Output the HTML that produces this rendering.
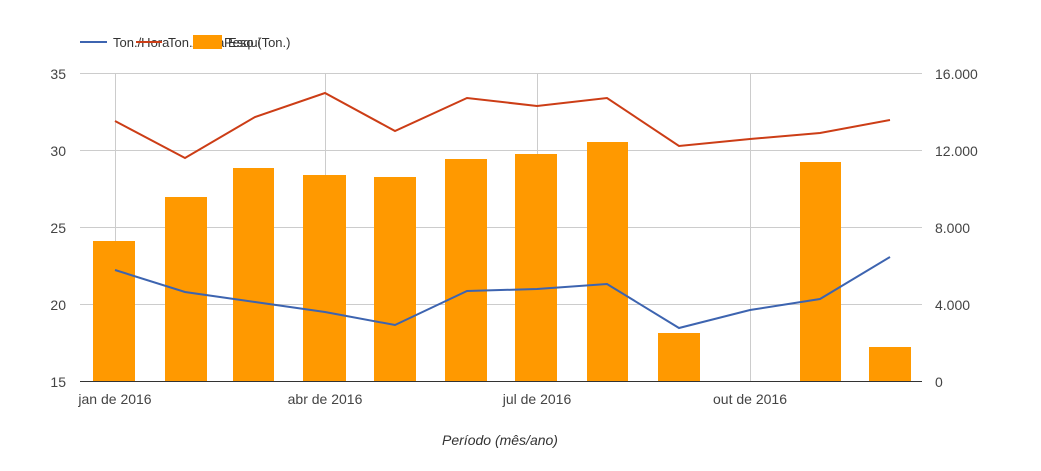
<!DOCTYPE html><html><head><style>body{margin:0;background:#fff}svg text{font-family:"Liberation Sans",sans-serif}</style></head><body>
<svg width="1041" height="466" xmlns="http://www.w3.org/2000/svg">
<g stroke="#ccc" stroke-width="1">
<line x1="80" y1="73.5" x2="922" y2="73.5"/><line x1="80" y1="150.5" x2="922" y2="150.5"/><line x1="80" y1="227.5" x2="922" y2="227.5"/><line x1="80" y1="304.5" x2="922" y2="304.5"/>
<line x1="115.5" y1="73" x2="115.5" y2="381"/><line x1="325.5" y1="73" x2="325.5" y2="381"/><line x1="537.5" y1="73" x2="537.5" y2="381"/><line x1="750.5" y1="73" x2="750.5" y2="381"/>
</g>
<g fill="#ff9900">
<rect x="93" y="241" width="42" height="140"/><rect x="165" y="197" width="42" height="184"/><rect x="233" y="168" width="41" height="213"/><rect x="303" y="175" width="43" height="206"/><rect x="374" y="177" width="42" height="204"/><rect x="445" y="159" width="42" height="222"/><rect x="515" y="154" width="42" height="227"/><rect x="587" y="142" width="41" height="239"/><rect x="658" y="333" width="42" height="48"/><rect x="800" y="162" width="41" height="219"/><rect x="869" y="347" width="42" height="34"/>
</g>
<line x1="80" y1="381.5" x2="922" y2="381.5" stroke="#333"/>
<polyline fill="none" stroke="#cc3d16" stroke-width="2" points="115,121 185,158 255,117 325,93 395,131 467,98 537,106 607,98 679,146 750,139 820,133 890,120"/>
<polyline fill="none" stroke="#3d64b0" stroke-width="2" points="115,270 185,292 255,302 325,312 395,325 467,291 537,289 607,284 679,328 750,310 820,299 890,257"/>
<g font-size="14" fill="#444" text-anchor="end">
<text x="66" y="79">35</text><text x="66" y="156">30</text><text x="66" y="233">25</text><text x="66" y="310">20</text><text x="66" y="387">15</text></g>
<g font-size="14" fill="#444" text-anchor="start">
<text x="935" y="79">16.000</text><text x="935" y="156">12.000</text><text x="935" y="233">8.000</text><text x="935" y="310">4.000</text><text x="935" y="387">0</text></g>
<g font-size="14" fill="#444" text-anchor="middle">
<text x="115" y="404">jan de 2016</text><text x="325" y="404">abr de 2016</text><text x="537" y="404">jul de 2016</text><text x="750" y="404">out de 2016</text></g>
<text x="500" y="445" font-size="14" fill="#333" font-style="italic" text-anchor="middle">Período (mês/ano)</text>
<line x1="80" y1="42" x2="107" y2="42" stroke="#3d64b0" stroke-width="2"/>
<text x="113" y="47" font-size="13" fill="#333">Ton./Hora</text>
<line x1="136" y1="42" x2="162" y2="42" stroke="#cc3d16" stroke-width="2"/>
<text x="168" y="47" font-size="13" fill="#333">Ton./Hora Esqui</text>
<rect x="193" y="35" width="29" height="14" fill="#ff9900"/>
<text x="224" y="47" font-size="13" fill="#333">Peso (Ton.)</text>
</svg></body></html>
